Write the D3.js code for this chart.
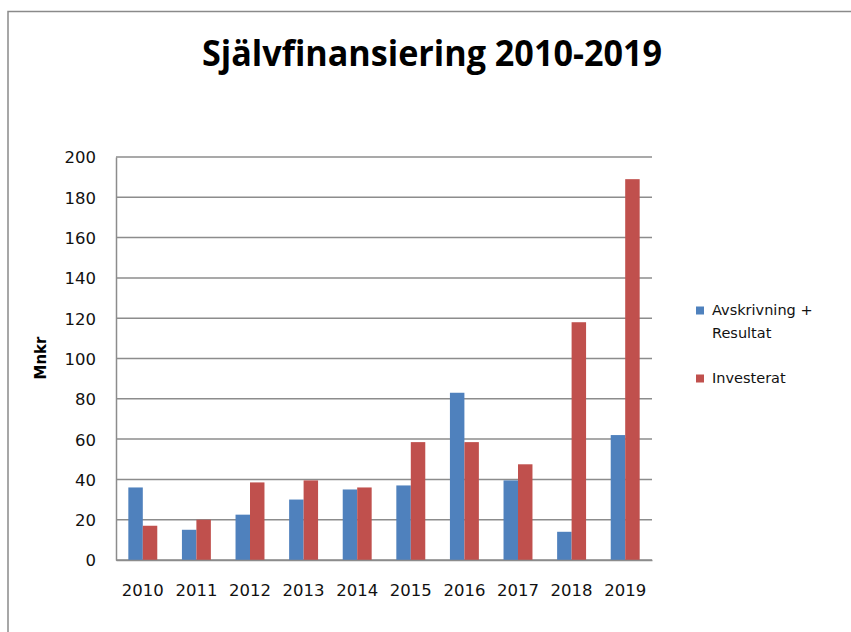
<!DOCTYPE html>
<html>
<head>
<meta charset="utf-8">
<script src="https://cdn.jsdelivr.net/npm/d3@7"></script>
<style>
  html, body { margin: 0; padding: 0; background: #ffffff; }
  svg { display: block; }
</style>
</head>
<body>
<svg id="chart" width="851" height="632"></svg>
<script>
const years = ["2010","2011","2012","2013","2014","2015","2016","2017","2018","2019"];
const seriesNames = ["Avskrivning + Resultat", "Investerat"];
const avskrivning = [36, 15, 22.5, 30, 35, 37, 83, 39.5, 14, 62];
const investerat = [17, 20, 38.5, 39.5, 36, 58.5, 58.5, 47.5, 118, 189];
const yTicks = [0, 20, 40, 60, 80, 100, 120, 140, 160, 180, 200];
const colors = ["#4F81BD", "#C0504D"];
const titleText = "Självfinansiering 2010-2019";
const yAxisTitle = "Mnkr";

const svg = d3.select("#chart");
const W = 851, H = 632;

// outer frame
svg.append("rect")
  .attr("x", 8).attr("y", 11.5)
  .attr("width", W + 20).attr("height", H + 20)
  .attr("fill", "#ffffff")
  .attr("stroke", "#8a8a8a").attr("stroke-width", 1.5);

const plotLeft = 116, plotRight = 652, plotTop = 157, plotBottom = 560;

const x = d3.scaleBand().domain(years).range([plotLeft, plotRight])
  .paddingInner(0.46).paddingOuter(0.23);
const xs = d3.scaleBand().domain(d3.range(seriesNames.length)).range([0, x.bandwidth()]);
const y = d3.scaleLinear().domain([0, 200]).range([plotBottom, plotTop]);

// gridlines
svg.append("g").selectAll("line").data(yTicks).join("line")
  .attr("x1", plotLeft).attr("x2", plotRight)
  .attr("y1", d => y(d)).attr("y2", d => y(d))
  .attr("stroke", "#8c8c8c").attr("stroke-width", 1.5);

// y axis
const yAxis = d3.axisLeft(y).tickValues(yTicks).tickSize(0).tickPadding(20);
const gy = svg.append("g").attr("transform", `translate(${plotLeft},0)`).call(yAxis);
gy.select(".domain").attr("stroke", "#8c8c8c").attr("stroke-width", 1.5);
gy.selectAll("text")
  .attr("font-family", "DejaVu Sans, sans-serif")
  .attr("font-size", 16.5).attr("fill", "#111").attr("dy", "0.36em");

// bars
const data = years.map((yr, i) => ({ yr, vals: [avskrivning[i], investerat[i]] }));
const groups = svg.append("g").selectAll("g").data(data).join("g")
  .attr("transform", d => `translate(${x(d.yr)},0)`);
groups.selectAll("rect").data(d => d.vals.map((v, k) => ({ v, k }))).join("rect")
  .attr("x", d => xs(d.k))
  .attr("width", xs.bandwidth())
  .attr("y", d => y(d.v))
  .attr("height", d => y(0) - y(d.v))
  .attr("fill", d => colors[d.k]);

// x axis
const xAxis = d3.axisBottom(x).tickSize(0).tickPadding(24);
const gx = svg.append("g").attr("transform", `translate(0,${plotBottom})`).call(xAxis);
gx.select(".domain").attr("stroke", "#8c8c8c").attr("stroke-width", 1.5);
gx.selectAll("text")
  .attr("font-family", "DejaVu Sans, sans-serif")
  .attr("font-size", 16.5).attr("fill", "#111");

// title
svg.append("text")
  .attr("x", 432).attr("y", 66)
  .attr("text-anchor", "middle")
  .attr("font-family", "Open Sans, sans-serif")
  .attr("font-weight", "bold").attr("font-size", 35.5)
  .attr("textLength", 460).attr("lengthAdjust", "spacingAndGlyphs")
  .attr("fill", "#000")
  .text(titleText);

// y axis title
svg.append("text")
  .attr("transform", "translate(46,358) rotate(-90)")
  .attr("text-anchor", "middle")
  .attr("font-family", "DejaVu Sans, sans-serif")
  .attr("font-weight", "bold").attr("font-size", 15)
  .attr("fill", "#000")
  .text(yAxisTitle);

// legend
const legend = svg.append("g").attr("font-family", "DejaVu Sans, sans-serif")
  .attr("font-size", 14.5).attr("fill", "#111");
const legendItems = [
  { lines: ["Avskrivning +", "Resultat"], y: 315 },
  { lines: ["Investerat"], y: 383 }
];
legendItems.forEach((it, k) => {
  legend.append("rect").attr("x", 696).attr("y", it.y - 8.5)
    .attr("width", 8).attr("height", 8).attr("fill", colors[k]);
  it.lines.forEach((ln, j) => {
    legend.append("text").attr("x", 712).attr("y", it.y + j * 23).text(ln);
  });
});
</script>
</body>
</html>
